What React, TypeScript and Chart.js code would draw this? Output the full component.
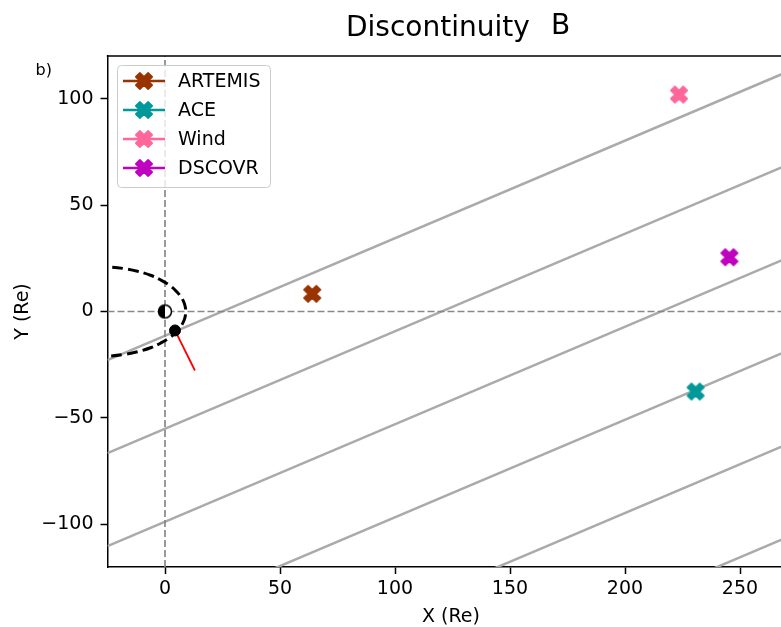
import React, { useEffect, useRef } from 'react';
import { Chart, registerables } from 'chart.js';
Chart.register(...registerables);

const FONT = 'DejaVu Sans';

// Spacecraft positions (Re)
const scNames = ['ARTEMIS', 'ACE', 'Wind', 'DSCOVR'];
const scX = [64.0, 230.7, 223.5, 245.4];
const scY = [8.3, -37.6, 101.9, 25.5];
const scColors = ['#993300', '#009999', '#ff6699', '#bf00bf'];

// Axes
const xTicks = [0, 50, 100, 150, 200, 250];
const yTicks = [-100, -50, 0, 50, 100];
const xMin = -25;
const xMax = 275;
const yMin = -120;
const yMax = 120;

// Phase-front (gray) lines: start and end points
const frontX0 = [-25, -25, -25, -25, -25, -25];
const frontY0 = [-22.8, -66.5, -110.2, -153.9, -197.7, -241.4];
const frontX1 = [275, 275, 275, 275, 275, 275];
const frontY1 = [114.6, 70.9, 27.2, -16.5, -60.3, -104.0];

// Bow shock (dashed black)
const bowX = [-30, -24, -18, -12, -6, -2, 2, 5, 7, 8.3, 8.85, 9, 8.85, 8.3, 7, 5, 2, -2, -6, -12, -18, -24, -30];
const bowY = [21.1, 20.9, 20.2, 18.9, 16.9, 14.9, 12.3, 9.4, 6.8, 4.1, 2.0, 0, -2.0, -4.1, -6.8, -9.4, -12.3, -14.9, -16.9, -18.9, -20.2, -20.9, -21.1];

// Earth, target point and normal vector
const earthX = [0];
const earthY = [0];
const targetX = [4.35];
const targetY = [-8.9];
const normalX = [4.35, 13.0];
const normalY = [-8.9, -27.7];

function xMarker(color: string, size = 18) {
  const pad = 2;
  const c = document.createElement('canvas');
  c.width = size + pad * 2;
  c.height = size + pad * 2;
  const ctx = c.getContext('2d')!;
  const u = (size / 2 - 0.75) / 2;
  const verts = [[-1, -2], [0, -1], [1, -2], [2, -1], [1, 0], [2, 1], [1, 2], [0, 1], [-1, 2], [-2, 1], [-1, 0], [-2, -1]];
  ctx.translate(c.width / 2, c.height / 2);
  ctx.beginPath();
  verts.forEach(([vx, vy], i) => (i ? ctx.lineTo(vx * u, vy * u) : ctx.moveTo(vx * u, vy * u)));
  ctx.closePath();
  ctx.fillStyle = color;
  ctx.fill();
  ctx.strokeStyle = color;
  ctx.lineWidth = 1.5;
  ctx.lineJoin = 'round';
  ctx.stroke();
  return c;
}

function earthMarker() {
  const c = document.createElement('canvas');
  c.width = 18;
  c.height = 18;
  const ctx = c.getContext('2d')!;
  const r = 6.5;
  const cx = 9;
  ctx.beginPath();
  ctx.arc(cx, cx, r, 0, Math.PI * 2);
  ctx.fillStyle = '#fff';
  ctx.fill();
  ctx.beginPath();
  ctx.moveTo(cx, cx - r);
  ctx.arc(cx, cx, r, -Math.PI / 2, Math.PI / 2, true);
  ctx.closePath();
  ctx.fillStyle = '#000';
  ctx.fill();
  ctx.beginPath();
  ctx.arc(cx, cx, r, 0, Math.PI * 2);
  ctx.strokeStyle = '#000';
  ctx.lineWidth = 1.5;
  ctx.stroke();
  return c;
}

const fmt = (v: number) => String(v).replace('-', '\u2212');

export default function App() {
  const ref = useRef<HTMLCanvasElement>(null);

  useEffect(() => {
    const canvas = ref.current!;
    const markers = scColors.map((c) => xMarker(c));

    const datasets: any[] = [];
    scNames.forEach((n, i) => {
      datasets.push({
        label: n,
        data: [{ x: scX[i], y: scY[i] }],
        pointStyle: markers[i],
        pointRadius: 9,
        showLine: false,
      });
    });
    datasets.push({
      label: 'target',
      data: targetX.map((x, i) => ({ x, y: targetY[i] })),
      pointStyle: 'circle',
      pointRadius: 5.5,
      backgroundColor: '#000',
      borderColor: '#000',
      borderWidth: 1,
      showLine: false,
    });
    datasets.push({
      label: 'earth',
      data: earthX.map((x, i) => ({ x, y: earthY[i] })),
      pointStyle: earthMarker(),
      pointRadius: 8,
      showLine: false,
    });
    datasets.push({
      label: 'normal',
      data: normalX.map((x, i) => ({ x, y: normalY[i] })),
      showLine: true,
      borderColor: '#ff0000',
      borderWidth: 1.8,
      pointRadius: 0,
    });
    datasets.push({
      label: 'bow',
      data: bowX.map((x, i) => ({ x, y: bowY[i] })),
      showLine: true,
      borderColor: '#000',
      borderWidth: 3,
      borderDash: [11, 5],
      tension: 0.4,
      pointRadius: 0,
    });
    datasets.push({
      label: 'y0',
      data: [{ x: xMin, y: 0 }, { x: xMax, y: 0 }],
      showLine: true,
      borderColor: '#888888',
      borderWidth: 1.7,
      borderDash: [7, 3],
      pointRadius: 0,
    });
    datasets.push({
      label: 'x0',
      data: [{ x: 0, y: yMin }, { x: 0, y: yMax }],
      showLine: true,
      borderColor: '#888888',
      borderWidth: 1.7,
      borderDash: [7, 3],
      pointRadius: 0,
    });
    frontX0.forEach((_, i) => {
      datasets.push({
        label: 'front' + i,
        data: [{ x: frontX0[i], y: frontY0[i] }, { x: frontX1[i], y: frontY1[i] }],
        showLine: true,
        borderColor: '#aaaaaa',
        borderWidth: 2.5,
        pointRadius: 0,
      });
    });

    const decor = {
      id: 'decor',
      afterDraw(chart: any) {
        const ctx = chart.ctx as CanvasRenderingContext2D;
        const a = chart.chartArea;
        ctx.save();
        ctx.strokeStyle = '#000';
        ctx.lineWidth = 1.5;
        ctx.beginPath();
        ctx.moveTo(a.left - 0.75, a.top);
        ctx.lineTo(a.right, a.top);
        ctx.lineTo(a.right, a.bottom);
        ctx.stroke();

        // legend
        ctx.beginPath();
        (ctx as any).roundRect(117.5, 65.5, 153, 122, 4);
        ctx.fillStyle = 'rgba(255,255,255,0.8)';
        ctx.fill();
        ctx.strokeStyle = '#cccccc';
        ctx.lineWidth = 1;
        ctx.stroke();
        const rowY = [81, 110, 139, 168];
        scNames.forEach((n, i) => {
          const y = rowY[i];
          ctx.beginPath();
          ctx.moveTo(123, y);
          ctx.lineTo(165, y);
          ctx.strokeStyle = scColors[i];
          ctx.lineWidth = 2.6;
          ctx.stroke();
          const m = markers[i];
          ctx.drawImage(m, 144 - m.width / 2, y - m.height / 2);
          ctx.fillStyle = '#000';
          ctx.font = `19px "${FONT}"`;
          ctx.textAlign = 'left';
          ctx.textBaseline = 'middle';
          ctx.fillText(n, 178, y + 1);
        });

        // title
        ctx.fillStyle = '#000';
        ctx.textBaseline = 'alphabetic';
        ctx.textAlign = 'left';
        ctx.font = `28px "${FONT}"`;
        ctx.fillText('Discontinuity', 346, 36);
        ctx.fillText('B', 551, 33.5);

        // panel label
        ctx.font = `16px "${FONT}"`;
        ctx.fillText('b)', 35.5, 75);

        // axis labels
        ctx.font = `19px "${FONT}"`;
        ctx.textAlign = 'center';
        ctx.fillText('X (Re)', 451, 622);
        ctx.save();
        ctx.translate(28, (a.top + a.bottom) / 2);
        ctx.rotate(-Math.PI / 2);
        ctx.fillText('Y (Re)', 0, 0);
        ctx.restore();
        ctx.restore();
      },
    };

    const axisCommon = {
      type: 'linear' as const,
      grid: {
        display: true,
        drawOnChartArea: false,
        drawTicks: true,
        tickLength: 7,
        tickWidth: 1.5,
        tickColor: '#000',
      },
      border: { display: true, color: '#000', width: 1.5 },
    };

    const chart = new Chart(canvas, {
      type: 'scatter',
      data: { datasets },
      plugins: [decor],
      options: {
        responsive: false,
        animation: false,
        devicePixelRatio: 1,
        layout: { padding: { left: 0, top: 56, right: 22.5, bottom: 0 } },
        plugins: {
          legend: { display: false },
          title: { display: false },
          tooltip: { enabled: false },
        },
        scales: {
          x: {
            ...axisCommon,
            min: xMin,
            max: xMax,
            afterFit: (s: any) => {
              s.height = 60;
            },
            afterBuildTicks: (s: any) => {
              s.ticks = xTicks.map((v) => ({ value: v }));
            },
            ticks: {
              color: '#000',
              font: { family: FONT, size: 19 },
              padding: 4,
              maxRotation: 0,
              autoSkip: false,
              callback: (v: any) => fmt(v),
            },
          },
          y: {
            ...axisCommon,
            min: yMin,
            max: yMax,
            afterFit: (s: any) => {
              s.width = 107.5;
            },
            afterBuildTicks: (s: any) => {
              s.ticks = yTicks.map((v) => ({ value: v }));
            },
            ticks: {
              color: '#000',
              font: { family: FONT, size: 19 },
              padding: 7,
              autoSkip: false,
              callback: (v: any) => fmt(v),
            },
          },
        },
      } as any,
    });
    return () => chart.destroy();
  }, []);

  return (
    <div
      style={{
        position: 'absolute',
        left: 0,
        top: 0,
        width: 781,
        height: 627,
        overflow: 'hidden',
        background: '#fff',
      }}
    >
      <canvas ref={ref} width={820} height={627} style={{ display: 'block' }} />
    </div>
  );
}
